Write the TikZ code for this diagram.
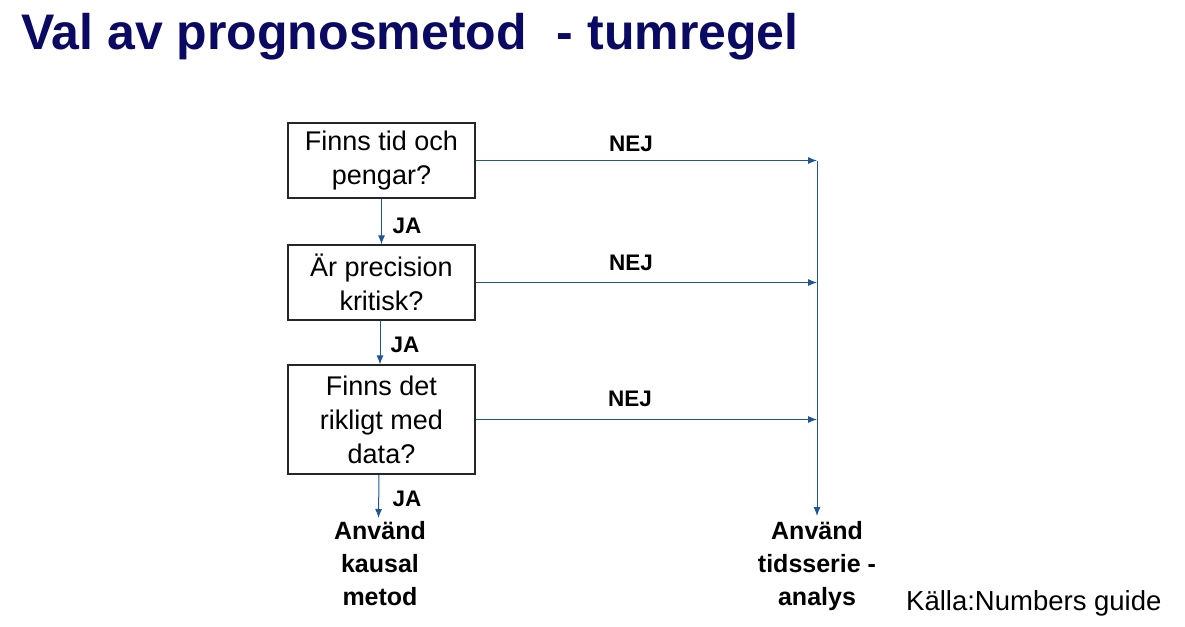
\documentclass[tikz,border=0pt]{standalone}
\usepackage{fontspec}
\setmainfont{Liberation Sans}
\usetikzlibrary{arrows.meta}
\definecolor{titlenavy}{HTML}{0A0A64}
\definecolor{flowblue}{HTML}{1F5596}
\begin{document}
\begin{tikzpicture}[x=1pt,y=-1pt,
  question/.style={draw=black!85,line width=1.2pt,minimum width=187pt,inner sep=0pt,align=center,font=\fontsize{27}{34}\selectfont},
  answer/.style={font=\bfseries\fontsize{22.5}{24}\selectfont,inner sep=0pt},
  outcome/.style={font=\bfseries\fontsize{25}{33}\selectfont,align=center,inner sep=0pt},
  flow/.style={draw=flowblue,line width=1pt,-{Latex[length=9pt,width=7pt]}}]
\useasboundingbox (0,0) rectangle (1185,626);
\node[anchor=base west,text=titlenavy,font=\bfseries\fontsize{50}{54}\selectfont,inner sep=0pt] (title) at (21,50) {Val av prognosmetod\hspace{30pt}- tumregel};

\node[question,minimum height=75pt] (q1) at (381.5,160.5) {Finns tid och\\pengar?};
\node[question,minimum height=75pt] (q2) at (381.5,282.5) {Är precision\\kritisk?};
\node[question,minimum height=109pt] (q3) at (381.5,419.5) {Finns det\\rikligt med\\data?};

\node[outcome,anchor=north] (causal) at (380,521) {Använd\\kausal\\metod};
\node[outcome,anchor=north] (series) at (817,521) {Använd\\tidsserie -\\analys};
\node[anchor=base west,font=\fontsize{27.5}{30}\selectfont,inner sep=0pt] (source) at (906,610) {Källa:Numbers guide};

\coordinate (j1) at (817,160.5);
\coordinate (j2) at (817,282.5);
\coordinate (j3) at (817,419.5);
\coordinate (seriestop) at (817,516);
\coordinate (causaltop) at (380,518);

\draw[flow] (q1.south) -- (q2.north);
\draw[flow] ([xshift=-1.5pt]q2.south) -- ([xshift=-1.5pt]q3.north);
\draw[flow] ([xshift=-2.5pt]q3.south) -- ([xshift=-1.5pt]causaltop);
\draw[flow] (q1.east) -- (j1);
\draw[flow] (q2.east) -- (j2);
\draw[flow] (q3.east) -- (j3);
\draw[flow] (j1) -- (seriestop);

\node[answer,anchor=base] (ja1) at (407,233) {JA};
\node[answer,anchor=base] (ja2) at (405,352) {JA};
\node[answer,anchor=base] (ja3) at (407,506) {JA};
\node[answer,anchor=base] (nej1) at (631,151) {NEJ};
\node[answer,anchor=base] (nej2) at (631,270) {NEJ};
\node[answer,anchor=base] (nej3) at (630,406) {NEJ};
\end{tikzpicture}
\end{document}
